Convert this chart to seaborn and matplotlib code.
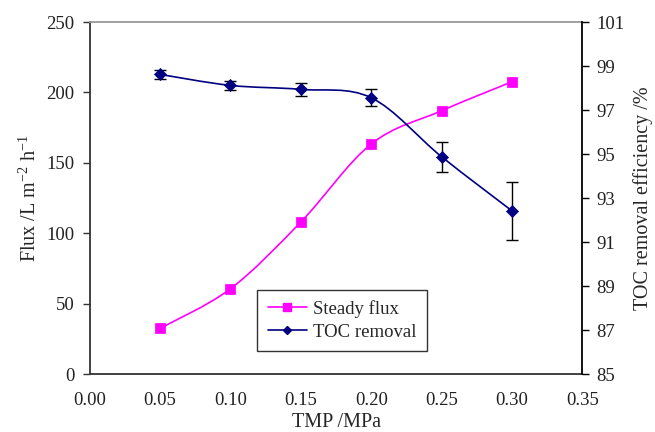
import numpy as np
import pandas as pd
import seaborn as sns
import matplotlib.pyplot as plt
from matplotlib.path import Path
from matplotlib.patches import PathPatch
from matplotlib.lines import Line2D

tmp = [0.05, 0.10, 0.15, 0.20, 0.25, 0.30]
flux = [32.5, 60.6, 108.0, 163.4, 187.0, 207.6]
toc = [98.62, 98.12, 97.94, 97.56, 94.88, 92.42]
toc_err = [0.19, 0.19, 0.30, 0.38, 0.68, 1.33]

FLUX_COL = "#ff00ff"
TOC_COL = "#000080"


def smooth_path(x, y):
    # Excel-style smoothed line: cubic Bezier through each point
    x = np.asarray(x, float)
    y = np.asarray(y, float)
    pts = np.column_stack([x, y])
    n = len(pts)
    verts = [pts[0]]
    codes = [Path.MOVETO]
    for i in range(n - 1):
        p0 = pts[i - 1] if i > 0 else pts[i]
        p1 = pts[i]
        p2 = pts[i + 1]
        p3 = pts[i + 2] if i + 2 < n else pts[i + 1]
        c1 = p1 + (p2 - p0) / 6.0
        c2 = p2 - (p3 - p1) / 6.0
        verts += [c1, c2, p2]
        codes += [Path.CURVE4] * 3
    return Path(verts, codes)


def main():
    sns.set_style("white")
    plt.rcParams["font.family"] = ["Liberation Serif", "DejaVu Serif"]
    plt.rcParams["mathtext.fontset"] = "custom"
    plt.rcParams["mathtext.rm"] = "Liberation Serif"

    df = pd.DataFrame({"tmp": tmp, "flux": flux, "toc": toc, "err": toc_err})

    fig = plt.figure(figsize=(6.55, 4.32), dpi=100)
    ax = fig.add_axes([0.137, 0.134, 0.752, 0.815])
    ax2 = ax.twinx()

    # flux series (left axis)
    ax.add_patch(PathPatch(smooth_path(df.tmp, df.flux), facecolor="none",
                           edgecolor=FLUX_COL, lw=1.2, zorder=2))
    sns.scatterplot(data=df, x="tmp", y="flux", ax=ax, marker="s", s=42,
                    color=FLUX_COL, edgecolor=FLUX_COL, zorder=3, legend=False)

    # TOC removal (right axis)
    ax2.add_patch(PathPatch(smooth_path(df.tmp, df.toc), facecolor="none",
                            edgecolor=TOC_COL, lw=1.2, zorder=2))
    ax2.errorbar(df.tmp, df.toc, yerr=df.err, fmt="none", ecolor="black",
                 elinewidth=1.0, capsize=4, capthick=1.0, zorder=3)
    sns.scatterplot(data=df, x="tmp", y="toc", ax=ax2, marker="D", s=38,
                    color=TOC_COL, edgecolor=TOC_COL, zorder=4, legend=False)

    ax.set_xlim(0, 0.35)
    ax.set_ylim(0, 250)
    ax2.set_ylim(85, 101)
    ax.set_xticks(np.arange(0, 0.351, 0.05))
    ax.set_xticklabels([f"{v:.2f}" for v in np.arange(0, 0.351, 0.05)])
    ax.set_yticks(range(0, 251, 50))
    ax2.set_yticks(range(85, 102, 2))

    ax.set_xlabel("TMP /MPa", fontsize=14.5, labelpad=3)
    ax.set_ylabel("Flux /L m$^{\\mathregular{-2}}$ h$^{\\mathregular{-1}}$", fontsize=14.5, labelpad=4)
    ax2.set_ylabel("TOC removal efficiency /%", fontsize=14.5, labelpad=6)

    for a in (ax, ax2):
        for sp in a.spines.values():
            sp.set_visible(False)
    ax.spines["left"].set_visible(True)
    ax.spines["left"].set_color("#333333")
    ax.spines["bottom"].set_visible(True)
    ax.spines["bottom"].set_color("#333333")
    ax.spines["top"].set_visible(True)
    ax.spines["top"].set_color("#999999")
    ax2.spines["right"].set_visible(True)
    ax2.spines["right"].set_color("black")
    for sp in ("left", "bottom", "top"):
        ax.spines[sp].set_linewidth(1.3)
    ax2.spines["right"].set_linewidth(1.3)

    ax.tick_params(axis="y", direction="out", length=5, width=1, labelsize=13.5,
                   color="#333333", labelcolor="#222222", pad=6)
    ax.tick_params(axis="x", direction="in", length=5, width=1, labelsize=13.5,
                   color="#333333", labelcolor="#222222", pad=13)
    ax2.tick_params(axis="y", direction="out", length=5, width=1, labelsize=13.5,
                    color="black", labelcolor="#222222", pad=5)
    ax.grid(False)
    ax2.grid(False)

    handles = [
        Line2D([], [], color=FLUX_COL, lw=1.2, marker="s", markersize=5.5),
        Line2D([], [], color=TOC_COL, lw=1.2, marker="D", markersize=4.5),
    ]
    leg = ax2.legend(handles, ["Steady flux", "TOC removal"], loc="upper left",
                     bbox_to_anchor=(0.34, 0.24), fontsize=13.5, frameon=True,
                     fancybox=False, edgecolor="black", handlelength=2.1,
                     borderpad=0.55, labelspacing=0.32, handletextpad=0.35,
                     borderaxespad=0)
    leg.get_frame().set_linewidth(1.0)

    fig.savefig("out.png", dpi=100)


if __name__ == "__main__":
    main()
